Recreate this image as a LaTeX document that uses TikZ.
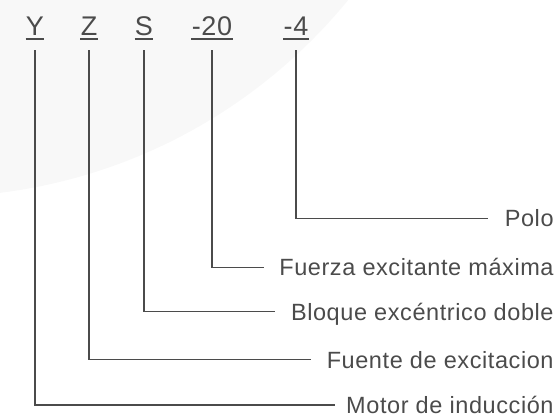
\documentclass[tikz,border=0pt]{standalone}
\usepackage{fontspec}
\setmainfont{Liberation Sans}
\newfontfamily\codefont{Liberation Sans}[LetterSpace=2.5]
\usepackage{tikz}
\definecolor{ink}{RGB}{75,75,75}
\definecolor{wedge}{RGB}{248,248,248}

\begin{document}
\begin{tikzpicture}[x=1pt, y=-1pt, thick]
  \tikzset{code/.style={inner sep=0pt, anchor=base, text=ink, font=\codefont\fontsize{27}{28}\selectfont, text height=19.3pt, text depth=0pt}}
  \tikzset{meaning/.style={inner sep=0pt, anchor=base east, text=ink, font=\codefont\fontsize{23.5}{24}\selectfont, text height=16.8pt, text depth=0pt}}
  \tikzset{lead/.style={draw=ink, line width=1.5pt}}

  \useasboundingbox (0,0) rectangle (558,417);

  % Background
  \begin{scope}
    \clip (0,0) rectangle (558,417);
    \fill[wedge] (-67,-339) circle (536);
  \end{scope}

  % Model code
  \foreach \n/\t/\x in {y/Y/35, z/Z/89, s/S/144, f/-20/212, p/-4/296} {
    \node[code] (\n) at (\x, 36) {\t};
    \draw[lead, line width=2pt] ([yshift=-3.3pt]\n.base west) -- ([yshift=-3.3pt]\n.base east);
  }

  % Meanings
  \foreach \n/\t/\y in {polo/Polo/218.3, fuerza/Fuerza excitante máxima/267.3,
      bloque/Bloque excéntrico doble/311.7, fuente/Fuente de excitacion/359.7,
      motor/Motor de inducción/405} {
    \node[meaning] (\n) at (554, \y+8.4) {\t};
  }

  % Edges
  \draw [lead] ([yshift=-14pt]p.south) |- ([xshift=-16pt]polo.west);
  \draw [lead] ([yshift=-14pt]f.south) |- ([xshift=-15pt]fuerza.west);
  \draw [lead] ([yshift=-14pt]s.south) |- ([xshift=-16pt]bloque.west);
  \draw [lead] ([yshift=-14pt]z.south) |- ([xshift=-15pt]fuente.west);
  \draw [lead] ([yshift=-14pt]y.south) |- ([xshift=-11pt]motor.west);

\end{tikzpicture}
\end{document}
